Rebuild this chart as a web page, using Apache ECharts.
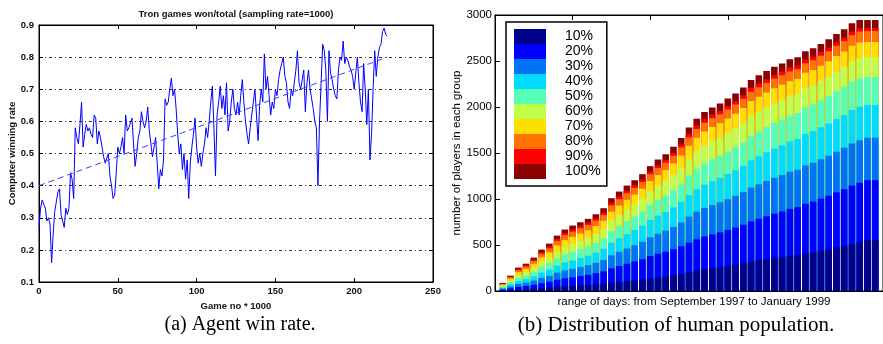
<!DOCTYPE html>
<html><head><meta charset="utf-8">
<script src="https://cdn.jsdelivr.net/npm/echarts@6/dist/echarts.min.js"></script>
<style>html,body{margin:0;padding:0;background:#fff}#c{width:883px;height:344px}</style>
</head><body><div id="c"></div>
<script>
// ---- Panel (a): computer winning rate, one sample per 1000 games ----
const winRate = [
0.27,0.33,0.355,0.35,0.33,0.29,0.30,0.28,0.16,0.25,
0.32,0.35,0.38,0.39,0.31,0.29,0.27,0.33,0.31,0.33,
0.44,0.42,0.36,0.58,0.55,0.53,0.59,0.66,0.52,0.56,
0.59,0.57,0.58,0.56,0.55,0.62,0.61,0.53,0.57,0.55,
0.52,0.49,0.47,0.465,0.50,0.43,0.40,0.36,0.37,0.44,
0.52,0.50,0.52,0.55,0.50,0.62,0.57,0.58,0.58,0.61,
0.53,0.46,0.50,0.55,0.57,0.63,0.60,0.58,0.60,0.645,
0.57,0.53,0.49,0.52,0.55,0.47,0.39,0.45,0.43,0.48,
0.67,0.65,0.66,0.70,0.735,0.68,0.70,0.64,0.56,0.50,
0.53,0.45,0.50,0.42,0.48,0.36,0.47,0.52,0.56,0.61,
0.52,0.47,0.50,0.46,0.50,0.53,0.58,0.55,0.60,0.66,
0.71,0.58,0.43,0.62,0.66,0.71,0.64,0.68,0.62,0.72,
0.57,0.60,0.66,0.70,0.64,0.62,0.66,0.62,0.68,0.73,
0.66,0.60,0.56,0.53,0.58,0.62,0.66,0.70,0.62,0.54,
0.65,0.70,0.66,0.81,0.70,0.74,0.68,0.62,0.66,0.64,
0.70,0.68,0.73,0.76,0.78,0.80,0.74,0.72,0.66,0.64,
0.70,0.68,0.72,0.76,0.82,0.72,0.70,0.73,0.76,0.63,
0.72,0.76,0.70,0.67,0.64,0.60,0.58,0.40,0.60,0.72,
0.84,0.82,0.76,0.60,0.82,0.75,0.73,0.70,0.68,0.67,
0.76,0.80,0.79,0.85,0.78,0.80,0.79,0.77,0.76,0.74,
0.70,0.75,0.80,0.72,0.66,0.63,0.78,0.70,0.59,0.70,
0.48,0.56,0.70,0.82,0.74,0.80,0.83,0.84,0.88,0.89,
0.87,0.865];
const trendX = [0, 221];
const trendY = [0.40, 0.80];
const aTitle = 'Tron games won/total (sampling rate=1000)';
const aXName = 'Game no * 1000';
const aYName = 'Computer winning rate';

// ---- Panel (b): players per win-rate group, 49 periods ----
const groupNames = ['10%','20%','30%','40%','50%','60%','70%','80%','90%','100%'];
const groupColors = ['#00008b','#0000ff','#0073f5','#00dcff','#55ffb8','#beff4a','#ffdf00','#ff7300','#ff0000','#8b0000'];
const p10 = [5,10,16,20,25,32,38,46,52,57,61,66,72,79,91,99,108,116,124,136,148,159,172,188,207,225,239,251,262,275,288,303,321,334,346,358,369,381,390,406,420,437,455,474,493,514,531,551,551];
const p20 = [10,19,29,35,43,54,63,76,86,92,101,110,121,135,156,173,189,205,222,244,257,268,282,299,320,337,353,365,376,389,402,417,436,451,466,482,496,511,522,542,553,567,582,598,614,632,645,654,654];
const p30 = [10,20,31,36,45,57,65,77,86,92,99,105,113,124,141,154,165,176,188,204,217,228,243,260,282,300,311,319,326,335,344,354,367,375,383,390,396,403,406,417,421,427,434,442,449,458,462,460,460];
const p40 = [11,22,33,38,47,58,67,78,87,92,98,103,111,121,136,147,157,166,177,190,198,203,212,222,234,243,253,259,265,272,279,288,298,305,312,319,324,331,335,344,345,348,351,355,358,363,364,356,356];
const p50 = [11,22,33,39,47,58,67,78,87,92,96,100,106,113,126,134,141,147,154,163,171,178,188,199,213,225,232,237,240,245,250,256,264,268,272,276,279,282,283,289,291,294,297,302,305,309,311,306,306];
const p60 = [11,21,33,38,46,56,63,73,81,85,89,93,98,104,116,123,129,135,141,149,155,159,165,172,181,187,193,197,200,203,207,212,218,217,216,215,212,210,207,206,207,209,211,213,215,218,219,215,215];
const p70 = [10,20,30,35,42,51,58,67,74,78,80,82,84,88,96,99,102,103,105,109,114,119,125,133,142,150,153,154,154,156,157,158,160,162,163,164,165,165,165,167,166,167,168,169,169,171,170,165,165];
const p80 = [8,15,22,26,31,38,43,49,54,57,58,59,60,63,68,70,72,72,73,75,77,79,82,86,90,94,96,97,98,99,100,101,103,104,104,105,104,104,103,104,106,107,109,112,114,116,118,118,118];
const p90 = [4,7,11,12,15,18,20,22,24,25,25,25,25,26,28,28,28,28,27,27,29,30,31,33,36,37,38,38,38,38,38,39,39,40,40,40,41,41,41,42,41,41,40,40,39,39,38,35,35];
const p100 = [7,11,16,18,22,28,31,36,37,41,40,41,44,47,51,54,55,56,59,60,63,64,67,70,73,74,77,78,80,81,83,85,87,88,89,89,88,90,88,88,88,88,89,89,88,90,88,86,86];
const groups = [p10,p20,p30,p40,p50,p60,p70,p80,p90,p100];
const bXName = 'range of days: from September 1997 to January 1999';
const bYName = 'number of players in each group';
const capA = '(a) Agent win rate.';
const capB = '(b) Distribution of human population.';

// cumulative tops of each group (stack built here, drawn tallest first)
const cumul = [];
groups.forEach((g, k) => {
  cumul.push(g.map((v, i) => v + (k > 0 ? cumul[k - 1][i] : 0)));
});

const SANS = '"Liberation Sans", Arial, sans-serif';
const SERIF = '"Liberation Serif", "DejaVu Serif", serif';
const aText = {fontSize: 9.5, fontWeight: 'bold', color: '#111', fontFamily: SANS};
const inTick = (len) => ({show: true, inside: true, length: len, lineStyle: {color: '#000'}});
const blackLine = {show: true, onZero: false, lineStyle: {color: '#000', width: 1}};

const barSeries = [];
for (let k = groups.length - 1; k >= 0; k--) {
  barSeries.push({
    type: 'bar', name: groupNames[k], xAxisIndex: 2, yAxisIndex: 2,
    barWidth: 6.6, barGap: '-100%', itemStyle: {color: groupColors[k]},
    data: cumul[k].map((v, i) => [i + 1, v])
  });
}

const chart = echarts.init(document.getElementById('c'), null, {renderer: 'canvas'});
chart.setOption({
  animation: false,
  backgroundColor: '#fff',
  title: [{
    text: aTitle, left: 236, top: 9, textAlign: 'center', padding: 0,
    textStyle: Object.assign({}, aText)
  }],
  grid: [
    {left: 39, top: 25, width: 394, height: 257, show: true, borderColor: '#000', borderWidth: 1, backgroundColor: 'transparent'},
    {left: 495, top: 15, width: 388, height: 276, show: true, borderColor: '#000', borderWidth: 1, backgroundColor: 'transparent'}
  ],
  xAxis: [
    {gridIndex: 0, type: 'value', min: 0, max: 250, interval: 50, axisLine: blackLine, axisTick: inTick(4),
     axisLabel: Object.assign({margin: 4}, aText), splitLine: {show: false},
     name: aXName, nameLocation: 'middle', nameGap: 5, nameTextStyle: Object.assign({}, aText)},
    {gridIndex: 0, type: 'value', min: 0, max: 250, interval: 50, position: 'top', axisLine: blackLine, axisTick: inTick(4),
     axisLabel: {show: false}, splitLine: {show: false}},
    {gridIndex: 1, type: 'value', min: 0, max: 50, interval: 10, axisLine: blackLine, axisTick: inTick(5),
     axisLabel: {show: false}, splitLine: {show: false},
     name: bXName, nameLocation: 'middle', nameGap: 5,
     nameTextStyle: {fontSize: 11.5, color: '#000', fontFamily: SANS, verticalAlign: 'top', padding: [0, 0, 0, 10]}},
    {gridIndex: 1, type: 'value', min: 0, max: 50, interval: 10, position: 'top', axisLine: blackLine, axisTick: inTick(5),
     axisLabel: {show: false}, splitLine: {show: false}}
  ],
  yAxis: [
    {gridIndex: 0, type: 'value', min: 0.1, max: 0.9, interval: 0.1, axisLine: blackLine, axisTick: inTick(4),
     axisLabel: Object.assign({margin: 5, formatter: v => v.toFixed(1)}, aText),
     splitLine: {show: true, lineStyle: {color: '#333', width: 1, type: [3, 3, 1, 3]}},
     name: aYName, nameLocation: 'middle', nameGap: 18, nameTextStyle: Object.assign({}, aText)},
    {gridIndex: 0, type: 'value', min: 0.1, max: 0.9, interval: 0.1, position: 'right', axisLine: blackLine, axisTick: inTick(4),
     axisLabel: {show: false}, splitLine: {show: false}},
    {gridIndex: 1, type: 'value', min: 0, max: 3000, interval: 500, axisLine: blackLine, axisTick: inTick(5),
     axisLabel: {margin: 3, fontSize: 11.5, color: '#000', fontFamily: SANS, formatter: v => String(v)}, splitLine: {show: false},
     name: bYName, nameLocation: 'middle', nameGap: 31,
     nameTextStyle: {fontSize: 11.5, color: '#000', fontFamily: SANS}}
  ],
  legend: {
    data: groupNames, orient: 'vertical', left: 506, top: 22,
    itemWidth: 32, itemHeight: 15, itemGap: 0, icon: 'rect',
    padding: [7, 6, 7, 8], borderColor: '#000', borderWidth: 1.5, backgroundColor: '#fff',
    selectedMode: false,
    textStyle: {fontSize: 14, lineHeight: 15, color: '#000', fontFamily: SANS, padding: [0, 0, 0, 14]}
  },
  graphic: [
    {type: 'text', x: 240, y: 315, style: {text: capA, font: '20px ' + SERIF, fill: '#000', textAlign: 'center'}},
    {type: 'text', x: 676, y: 315, style: {text: capB, font: '21px ' + SERIF, fill: '#000', textAlign: 'center'}}
  ],
  series: [
    {type: 'line', xAxisIndex: 0, yAxisIndex: 0, data: winRate.map((v, i) => [i, v]), symbol: 'none',
     lineStyle: {color: '#0000ff', width: 1}, z: 3},
    {type: 'line', xAxisIndex: 0, yAxisIndex: 0, data: trendX.map((x, i) => [x, trendY[i]]), symbol: 'none',
     lineStyle: {color: '#3b3bff', width: 1, type: [6, 4]}, z: 4}
  ].concat(barSeries)
});
</script></body></html>
